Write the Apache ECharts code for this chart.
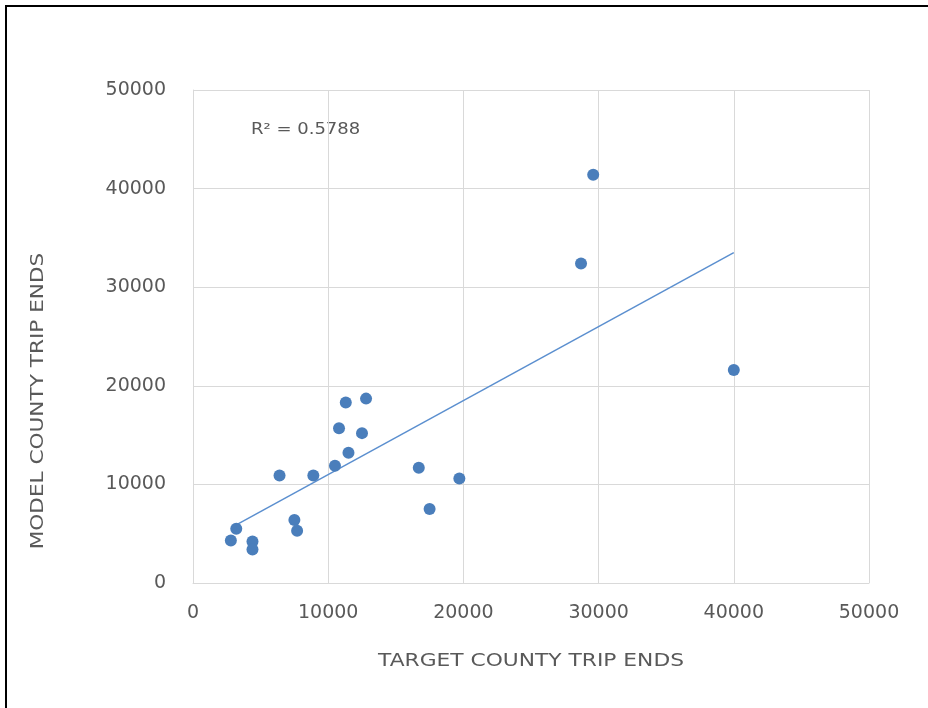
<!DOCTYPE html>
<html>
<head>
<meta charset="utf-8">
<script src="https://cdn.jsdelivr.net/npm/echarts@6/dist/echarts.min.js"></script>
<style>
  html, body { margin: 0; padding: 0; background: #fff; overflow: hidden; }
  #chart { position: absolute; left: 0; top: 0; width: 928px; height: 708px; }
  #frame { position: absolute; left: 5px; top: 5px; width: 1000px; height: 1000px;
    border-top: 2px solid #000; border-left: 2px solid #000; pointer-events: none; }
</style>
</head>
<body>
<div id="chart"></div>
<div id="frame"></div>
<script>
// target (x) vs model (y) county trip ends
var targetTrips = [2800, 3200, 4400, 4400, 6400, 7500, 7700, 8900, 10500, 10800,
  11300, 11500, 12500, 12800, 16700, 17500, 19700, 29600, 28700, 40000];
var modelTrips = [4300, 5500, 4200, 3400, 10900, 6400, 5300, 10900, 11900, 15700,
  18300, 13200, 15200, 18700, 11700, 7500, 10600, 41400, 32400, 21600];
// linear trendline ends
var trendX = [3200, 40000];
var trendY = [5900, 33500];
var axisTicks = [0, 10000, 20000, 30000, 40000, 50000];
var rSquared = '0.5788';

var points = targetTrips.map(function (x, i) { return [x, modelTrips[i]]; });
var trend = trendX.map(function (x, i) { return [x, trendY[i]]; });

var font = 'DejaVu Sans';
var gray = '#595959';
var gridColor = '#d9d9d9';

var chart = echarts.init(document.getElementById('chart'));

var axisCommon = {
  type: 'value',
  min: axisTicks[0],
  max: axisTicks[axisTicks.length - 1],
  interval: axisTicks[1] - axisTicks[0],
  axisLine: { show: true, lineStyle: { color: gridColor, width: 1 } },
  axisTick: { show: false },
  splitLine: { show: true, lineStyle: { color: gridColor, width: 1 } }
};
var tickFmt = function (v) { return String(v); };

var option = {
  animation: false,
  grid: { left: 193, right: 59, top: 90, bottom: 125 },
  xAxis: Object.assign({}, axisCommon, {
    axisLabel: { color: gray, fontFamily: font, fontSize: 19, margin: 21, formatter: tickFmt }
  }),
  yAxis: Object.assign({}, axisCommon, {
    axisLabel: { color: gray, fontFamily: font, fontSize: 19, margin: 27, formatter: tickFmt }
  }),
  series: [
    {
      type: 'scatter',
      data: points,
      symbol: 'circle',
      symbolSize: 12,
      itemStyle: { color: '#4a7ebb', opacity: 1 }
    },
    {
      type: 'line',
      data: trend,
      showSymbol: false,
      symbol: 'none',
      lineStyle: { color: '#5b8fcf', width: 1.5 },
      z: 1
    }
  ],
  graphic: [
    {
      type: 'text', x: 251, y: 130, scaleX: 1.2,
      style: { text: 'R² = ' + rSquared, fill: gray, font: '15px "' + font + '"',
        verticalAlign: 'middle' }
    },
    {
      type: 'text', x: 531, y: 662, scaleX: 1.28,
      style: { text: 'TARGET COUNTY TRIP ENDS', fill: gray, font: '17px "' + font + '"',
        align: 'center', verticalAlign: 'middle' }
    },
    {
      type: 'text', x: 39, y: 401, rotation: Math.PI / 2, scaleX: 1.27,
      style: { text: 'MODEL COUNTY TRIP ENDS', fill: gray, font: '17px "' + font + '"',
        align: 'center', verticalAlign: 'middle' }
    }
  ]
};

chart.setOption(option);
</script>
</body>
</html>
